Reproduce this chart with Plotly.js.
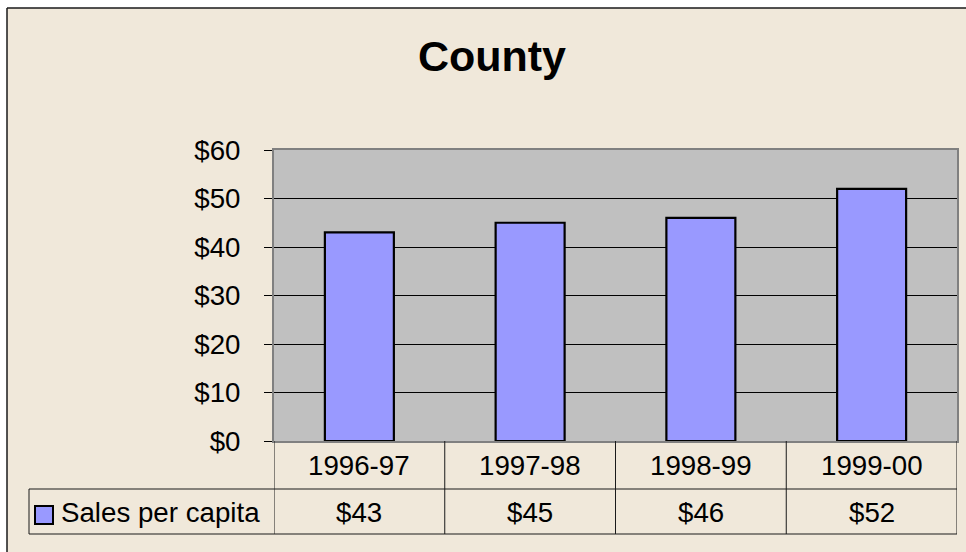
<!DOCTYPE html>
<html>
<head>
<meta charset="utf-8">
<script src="https://cdn.plot.ly/plotly-3.0.1.min.js"></script>
<style>html,body{margin:0;padding:0;background:#fff;}#chart{width:966px;height:552px;}</style>
</head>
<body>
<div id="chart"></div>
<script>
const categories = ['1996-97', '1997-98', '1998-99', '1999-00'];
const salesPerCapita = [43, 45, 46, 52];
const seriesName = 'Sales per capita';
const chartTitle = 'County';
const yTickValues = [0, 10, 20, 30, 40, 50, 60];

// Layout geometry (pixels)
const W = 966, H = 552;
const M = {l: 274, r: 9, t: 150, b: 111};
const PW = W - M.l - M.r, PH = H - M.t - M.b;
const px = x => (x - M.l) / PW;          // pixel x -> paper x
const py = y => (H - M.b - y) / PH;      // pixel y -> paper y

const FONT = 'Liberation Sans, Arial, sans-serif';
const FS = 27.7;
const BEIGE = '#F0E8DA';
const LINE = '#1a1a1a';

const shapes = [];
// white area outside the chart frame
shapes.push({type:'rect', xref:'paper', yref:'paper', x0:px(-20), x1:px(7), y0:py(600), y1:py(-20), fillcolor:'#fff', line:{width:0}, layer:'above'});
shapes.push({type:'rect', xref:'paper', yref:'paper', x0:px(-20), x1:px(990), y0:py(8), y1:py(-20), fillcolor:'#fff', line:{width:0}, layer:'above'});
// frame
shapes.push({type:'line', xref:'paper', yref:'paper', x0:px(7), x1:px(7), y0:py(8), y1:py(600), line:{color:LINE, width:1.5}, layer:'above'});
shapes.push({type:'line', xref:'paper', yref:'paper', x0:px(7), x1:px(990), y0:py(8), y1:py(8), line:{color:LINE, width:1.5}, layer:'above'});

// data table lines
const rowTop = py(441), rowMid = py(489), rowBot = py(534);
shapes.push({type:'line', xref:'paper', yref:'paper', x0:px(29), x1:1, y0:rowMid, y1:rowMid, line:{color:LINE, width:1}});
shapes.push({type:'line', xref:'paper', yref:'paper', x0:px(29), x1:1, y0:rowBot, y1:rowBot, line:{color:LINE, width:1}});
shapes.push({type:'line', xref:'paper', yref:'paper', x0:px(29), x1:px(29), y0:rowMid, y1:rowBot, line:{color:LINE, width:1}});
for (let i = 0; i <= categories.length; i++) {
  shapes.push({type:'line', xref:'x', yref:'paper', x0:i - 0.5, x1:i - 0.5, y0:rowTop, y1:rowBot, line:{color:LINE, width:1}});
}
// legend key
shapes.push({type:'rect', xref:'paper', yref:'paper', x0:px(35), x1:px(53), y0:py(524), y1:py(506), fillcolor:'#9999FF', line:{color:'#000', width:2}});

const annotations = [];
categories.forEach((c, i) => {
  annotations.push({xref:'x', yref:'paper', x:c, y:py(465), text:c, showarrow:false, xanchor:'center', yanchor:'middle', font:{family:FONT, size:FS, color:'#000'}});
  annotations.push({xref:'x', yref:'paper', x:c, y:py(512), text:'$' + salesPerCapita[i], showarrow:false, xanchor:'center', yanchor:'middle', font:{family:FONT, size:FS, color:'#000'}});
});
annotations.push({xref:'paper', yref:'paper', x:px(59), y:py(512), text:seriesName, showarrow:false, xanchor:'left', yanchor:'middle', font:{family:FONT, size:FS, color:'#000'}});

const trace = {
  type:'bar', x:categories, y:salesPerCapita, name:seriesName,
  marker:{color:'#9999FF', line:{color:'#000', width:2.2}},
  hoverinfo:'none'
};

const layout = {
  width:W, height:H, margin:M,
  paper_bgcolor:BEIGE, plot_bgcolor:'#C0C0C0',
  showlegend:false, bargap:0.596,
  font:{family:FONT, size:FS, color:'#000'},
  title:{text:'<b>' + chartTitle + '</b>', font:{family:FONT, size:43, color:'#000'}, xref:'container', yref:'container', x:492/W, y:1 - 56/H, xanchor:'center', yanchor:'middle'},
  xaxis:{type:'category', categoryarray:categories, range:[-0.5, categories.length - 0.5], showticklabels:false, ticks:'', showgrid:false, zeroline:false, showline:true, mirror:true, linecolor:'#808080', linewidth:2, fixedrange:true},
  yaxis:{range:[0, 60], tickvals:yTickValues, ticktext:yTickValues.map(v => '$' + v), ticks:'outside', ticklen:8, tickwidth:1, tickcolor:'#000', ticklabelstandoff:18, showgrid:true, gridcolor:'#000', gridwidth:1, zeroline:true, zerolinecolor:'#000', zerolinewidth:1, showline:true, mirror:true, linecolor:'#808080', linewidth:2, tickfont:{family:FONT, size:FS, color:'#000'}, fixedrange:true},
  shapes:shapes, annotations:annotations
};

Plotly.newPlot('chart', [trace], layout, {displayModeBar:false, staticPlot:true});
</script>
</body>
</html>
